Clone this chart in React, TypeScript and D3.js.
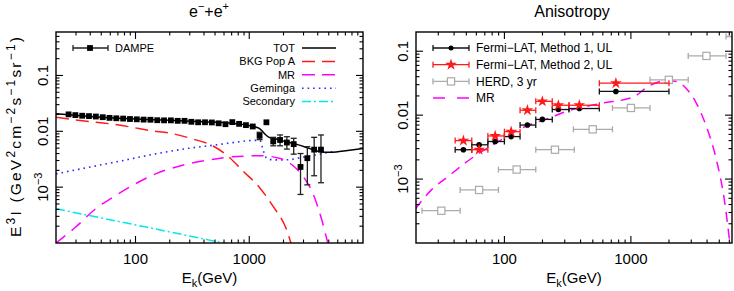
import { useRef, useEffect } from "react";
import * as d3 from "d3";

// ---- left panel: e- + e+ spectrum ----
const dampeE = [25.8, 29.6, 34.0, 39.0, 44.8, 51.5, 59.1, 67.8, 77.9, 89.4, 102.6, 117.8, 135.3, 155.3, 178.3, 204.7, 235.0, 269.8, 309.8, 355.6, 408.3, 468.8, 538.2, 617.9, 709.4, 814.5, 935.1, 1073.6, 1232.6, 1415.2, 1624.8, 1865.4, 2141.7, 2459, 2823, 3241, 3721, 4272];
const dampeFlux = [0.0201, 0.0195, 0.019, 0.0187, 0.0184, 0.0179, 0.0174, 0.0171, 0.0169, 0.0166, 0.0164, 0.0162, 0.0161, 0.0158, 0.0157, 0.0157, 0.0154, 0.0154, 0.0148, 0.0145, 0.0145, 0.0144, 0.0139, 0.0134, 0.0146, 0.0136, 0.0129, 0.0122, 0.0083, 0.0145, 0.0066, 0.007, 0.0063, 0.0059, 0.0023, 0.0033, 0.0047, 0.0047];
const dampeLo = [0.0196, 0.019, 0.0185, 0.0182, 0.0179, 0.0174, 0.0169, 0.0166, 0.0164, 0.0161, 0.0159, 0.0157, 0.0156, 0.0153, 0.0152, 0.0152, 0.0149, 0.0149, 0.0143, 0.014, 0.014, 0.0139, 0.0134, 0.0129, 0.0139, 0.0129, 0.0122, 0.0114, 0.0071, 0.0133, 0.0055, 0.0055, 0.0048, 0.0039, 0.00074, 0.0011, 0.0016, 0.0012];
const dampeHi = [0.0206, 0.02, 0.0195, 0.0192, 0.0189, 0.0184, 0.0179, 0.0176, 0.0174, 0.0171, 0.0169, 0.0167, 0.0166, 0.0163, 0.0162, 0.0162, 0.0159, 0.0159, 0.0153, 0.015, 0.015, 0.0149, 0.0144, 0.0139, 0.0153, 0.0143, 0.0136, 0.013, 0.0096, 0.0158, 0.0078, 0.0086, 0.008, 0.0075, 0.004, 0.0053, 0.0078, 0.0086];

const totE = [20, 30, 50, 100, 200, 400, 668, 1069, 1224, 1310, 1401, 1497, 1714, 2098, 2570, 3143, 3846, 4708, 5387, 7052, 10000];
const totV = [0.0206, 0.0193, 0.0179, 0.0166, 0.0158, 0.0148, 0.0141, 0.0123, 0.0113, 0.0099, 0.0086, 0.0078, 0.0073, 0.0065, 0.0059, 0.0052, 0.0045, 0.0042, 0.0042, 0.0045, 0.0049];
const bkgE = [20, 34, 58.4, 87.3, 133.6, 210, 318, 486, 681, 873, 1224, 1600, 2165, 2400];
const bkgV = [0.0178, 0.0155, 0.0137, 0.0121, 0.0103, 0.0091, 0.0073, 0.0054, 0.0033, 0.00198, 0.001, 0.00047, 0.000158, 0.00008];
const mrE = [20, 29.8, 44.6, 66.8, 100, 150, 224, 336, 503, 705, 1000, 1224, 1834, 2323, 2935, 3590, 4395, 4900];
const mrV = [0.0001, 0.000193, 0.00041, 0.00071, 0.00115, 0.00173, 0.00228, 0.00279, 0.0032, 0.0035, 0.00362, 0.00366, 0.0033, 0.0026, 0.00161, 0.00081, 0.000237, 0.0001];
const gemE = [20, 38.9, 76.4, 150, 294, 503, 754, 1000, 1240, 1330, 1420, 1600, 1834, 2230, 2935, 3846, 5000, 5400];
const gemV = [0.00173, 0.00227, 0.00298, 0.00394, 0.00496, 0.0057, 0.00636, 0.0068, 0.0069, 0.0045, 0.0033, 0.0031, 0.00307, 0.0031, 0.00343, 0.00377, 0.0042, 0.0043];
const secE = [20, 55, 150, 600, 700];
const secV = [0.00041, 0.00027, 0.000178, 0.0001, 0.000094];

// ---- right panel: anisotropy ----
const fermiE = [47.4, 63.1, 84.5, 113, 152, 199.5, 267, 391, 761];
const fermiLo = [40.8, 55.2, 74, 100, 133, 177, 239, 324, 563];
const fermiHi = [55.2, 74, 100, 133, 177, 239, 324, 563, 2000];
const fermi1 = [0.00288, 0.00344, 0.00387, 0.00462, 0.007, 0.00858, 0.01225, 0.0127, 0.0235];
const fermi2 = [0.004, 0.00288, 0.00473, 0.00552, 0.01194, 0.01644, 0.01429, 0.0143, 0.0316];
const herdE = [31.7, 63.1, 125, 251, 499, 1000, 1995, 3955, 7900];
const herdLo = [22.3, 44.7, 89.7, 177, 351, 715, 1416, 2839, 5650];
const herdHi = [44.7, 89.7, 177, 357, 715, 1416, 2839, 5650, 11200];
const herdV = [0.00032, 0.000676, 0.00141, 0.00288, 0.006, 0.01297, 0.0357, 0.0845, 0.17];
const mrAnisoE = [19.7, 26.7, 36.1, 49, 66.4, 89.7, 121, 164, 222, 301, 570, 1042, 1413, 1914, 2296, 2754, 3303, 3955, 4743, 5520, 6040];
const mrAnisoV = [0.00034, 0.00069, 0.00111, 0.00179, 0.00271, 0.00387, 0.00552, 0.00726, 0.00889, 0.01125, 0.0152, 0.0192, 0.0291, 0.0348, 0.0336, 0.0259, 0.0152, 0.0066, 0.002, 0.00043, 0.000105];

const xTickVals = [100, 1000];
const yTickVals = [0.1, 0.01, 0.001];

const FONT = "'Liberation Sans', Arial, Helvetica, sans-serif";

type Part = [string, number];

function rich(sel: any, parts: Part[], size: number, supSize: number) {
  let cur = 0;
  parts.forEach(([t, s]) => {
    const target = s === 1 ? -size * 0.42 : s === -1 ? size * 0.3 : 0;
    sel
      .append("tspan")
      .attr("dy", target - cur)
      .attr("font-size", s === 0 ? size : supSize)
      .text(t);
    cur = target;
  });
}

function App() {
  const svgRef = useRef<SVGSVGElement>(null);

  useEffect(() => {
    drawChart();
  }, []);

  function frame(g: any, x: any, y: any) {
    const [x0, x1] = x.range();
    const [y1, y0] = y.range();
    const [dx0, dx1] = x.domain();
    const [dy0, dy1] = y.domain();

    for (let p = Math.floor(Math.log10(dx0)); p <= Math.ceil(Math.log10(dx1)); p++) {
      for (let m = 1; m < 10; m++) {
        const v = m * Math.pow(10, p);
        if (v < dx0 * 1.001 || v > dx1 * 0.999) continue;
        const len = m === 1 ? 7 : 3.5;
        const px = x(v);
        g.append("line").attr("x1", px).attr("x2", px).attr("y1", y1).attr("y2", y1 - len);
        g.append("line").attr("x1", px).attr("x2", px).attr("y1", y0).attr("y2", y0 + len);
      }
    }
    for (let p = Math.floor(Math.log10(dy0)); p <= Math.ceil(Math.log10(dy1)); p++) {
      for (let m = 1; m < 10; m++) {
        const v = m * Math.pow(10, p);
        if (v < dy0 * 1.001 || v > dy1 * 0.999) continue;
        const len = m === 1 ? 7 : 3.5;
        const py = y(v);
        g.append("line").attr("x1", x0).attr("x2", x0 + len).attr("y1", py).attr("y2", py);
        g.append("line").attr("x1", x1).attr("x2", x1 - len).attr("y1", py).attr("y2", py);
      }
    }
    g.selectAll("line").attr("stroke", "#000").attr("stroke-width", 1.1);
    g.append("rect")
      .attr("x", x0)
      .attr("y", y0)
      .attr("width", x1 - x0)
      .attr("height", y1 - y0)
      .attr("fill", "none")
      .attr("stroke", "#000")
      .attr("stroke-width", 1.4);

    xTickVals.forEach((v) => {
      g.append("text")
        .attr("x", x(v))
        .attr("y", 264)
        .attr("text-anchor", "middle")
        .attr("font-size", 15)
        .text(String(v));
    });
    const labX = x0 - 8;
    yTickVals.forEach((v) => {
      const t = g
        .append("text")
        .attr("transform", `translate(${labX},${y(v)}) rotate(-90)`)
        .attr("text-anchor", "middle");
      if (v === 0.001) rich(t, [["10", 0], ["\u22123", 1]], 15, 11);
      else t.attr("font-size", 15).text(String(v));
    });

    const xt = g
      .append("text")
      .attr("x", (x0 + x1) / 2)
      .attr("y", 282.5)
      .attr("text-anchor", "middle");
    rich(xt, [["E", 0], ["k", -1], ["(GeV)", 0]], 15, 11);
  }

  function drawChart() {
    if (!svgRef.current) return;
    const svg = d3.select(svgRef.current);
    svg.selectAll("*").remove();
    svg.attr("font-family", FONT);

    const defs = svg.append("defs");

    // ================= LEFT =================
    const xL = d3.scaleLog().domain([20, 10000]).range([56, 363]);
    const yL = d3.scaleLog().domain([1e-4, 0.6]).range([243, 32]);
    defs
      .append("clipPath")
      .attr("id", "clipL")
      .append("rect")
      .attr("x", 56)
      .attr("y", 32)
      .attr("width", 307)
      .attr("height", 211);

    const gL = svg.append("g");
    const lineL = d3
      .line<[number, number]>()
      .x((d) => xL(d[0]))
      .y((d) => yL(d[1]))
      .curve(d3.curveMonotoneX);

    const curvesL = gL.append("g").attr("clip-path", "url(#clipL)");
    const series: [number[], number[], string, string, number][] = [
      [secE, secV, "#00e8e8", "9,3,2,3", 1.5],
      [gemE, gemV, "#2b2bff", "1.6,4", 1.6],
      [mrE, mrV, "#ff00ff", "12,8", 1.5],
      [bkgE, bkgV, "#ff1a1a", "13,7", 1.5],
      [totE, totV, "#000", "", 1.5],
    ];
    series.forEach(([es, vs, c, dash, w]) => {
      curvesL
        .append("path")
        .datum(es.map((e, i) => [e, vs[i]] as [number, number]))
        .attr("d", lineL)
        .attr("fill", "none")
        .attr("stroke", c)
        .attr("stroke-width", w)
        .attr("stroke-dasharray", dash || null);
    });

    // DAMPE points
    const pts = curvesL.append("g");
    dampeE.forEach((e, i) => {
      const px = xL(e);
      const yh = yL(dampeHi[i]);
      const yl = yL(dampeLo[i]);
      if (yl - yh > 6) {
        pts.append("line").attr("x1", px).attr("x2", px).attr("y1", yh).attr("y2", yl);
        pts.append("line").attr("x1", px - 3).attr("x2", px + 3).attr("y1", yh).attr("y2", yh);
        pts.append("line").attr("x1", px - 3).attr("x2", px + 3).attr("y1", yl).attr("y2", yl);
      }
      pts
        .append("rect")
        .attr("x", px - 2.9)
        .attr("y", yL(dampeFlux[i]) - 2.9)
        .attr("width", 5.8)
        .attr("height", 5.8)
        .attr("fill", "#000");
    });
    pts.selectAll("line").attr("stroke", "#222").attr("stroke-width", 1.3);

    frame(gL.append("g"), xL, yL);

    // title + y label
    const tL = svg.append("text").attr("x", 209).attr("y", 16.5).attr("text-anchor", "middle");
    rich(tL, [["e", 0], ["\u2212", 1], ["+e", 0], ["+", 1]], 16, 11);

    const yt = svg
      .append("text")
      .attr("transform", `translate(21,137) rotate(-90)`)
      .attr("text-anchor", "middle")
      .attr("textLength", 200)
      .attr("lengthAdjust", "spacing");
    rich(
      yt,
      [
        ["E", 0], ["3", 1], ["I  (GeV", 0], ["2", 1], ["cm", 0], ["\u22122", 1],
        ["s", 0], ["\u22121", 1], ["sr", 0], ["\u22121", 1], [")", 0],
      ],
      15.5,
      12
    );

    // left legend
    const lg = svg.append("g").attr("font-size", 11);
    lg.append("line").attr("x1", 73).attr("x2", 108).attr("y1", 48).attr("y2", 48);
    lg.append("line").attr("x1", 73).attr("x2", 73).attr("y1", 45).attr("y2", 51);
    lg.append("line").attr("x1", 108).attr("x2", 108).attr("y1", 45).attr("y2", 51);
    lg.selectAll("line").attr("stroke", "#222").attr("stroke-width", 1.3);
    lg.append("rect").attr("x", 87.1).attr("y", 45.1).attr("width", 5.8).attr("height", 5.8).attr("fill", "#000");
    lg.append("text").attr("x", 115).attr("y", 48).attr("dy", "0.35em").text("DAMPE");

    const legL: [string, string, string][] = [
      ["TOT", "#000", ""],
      ["BKG Pop A", "#ff1a1a", "13,7"],
      ["MR", "#ff00ff", "13,7"],
      ["Geminga", "#2b2bff", "1.6,4"],
      ["Secondary", "#00e8e8", "9,3,2,3"],
    ];
    legL.forEach(([name, c, dash], i) => {
      const yy = 48 + i * 13.4;
      lg.append("text").attr("x", 295).attr("y", yy).attr("dy", "0.35em").attr("text-anchor", "end").text(name);
      lg.append("line")
        .attr("x1", 302)
        .attr("x2", 336)
        .attr("y1", yy)
        .attr("y2", yy)
        .attr("stroke", c)
        .attr("stroke-width", 1.5)
        .attr("stroke-dasharray", dash || null);
    });

    // ================= RIGHT =================
    const xR = d3.scaleLog().domain([20, 6300]).range([416, 732]);
    const yR = d3.scaleLog().domain([1e-4, 0.2]).range([243, 32]);
    defs
      .append("clipPath")
      .attr("id", "clipR")
      .append("rect")
      .attr("x", 416)
      .attr("y", 32)
      .attr("width", 316)
      .attr("height", 211);

    const gR = svg.append("g");
    const dataR = gR.append("g").attr("clip-path", "url(#clipR)");

    const lineR = d3
      .line<[number, number]>()
      .x((d) => xR(d[0]))
      .y((d) => yR(d[1]))
      .curve(d3.curveMonotoneX);

    dataR
      .append("path")
      .datum(mrAnisoE.map((e, i) => [e, mrAnisoV[i]] as [number, number]))
      .attr("d", lineR)
      .attr("fill", "none")
      .attr("stroke", "#ff00ff")
      .attr("stroke-width", 1.5)
      .attr("stroke-dasharray", "10,7");

    function hbar(g: any, lo: number, hi: number, yy: number, c: string) {
      g.append("line").attr("x1", xR(lo)).attr("x2", xR(hi)).attr("y1", yy).attr("y2", yy).attr("stroke", c).attr("stroke-width", 1.3);
      [lo, hi].forEach((v) =>
        g.append("line").attr("x1", xR(v)).attr("x2", xR(v)).attr("y1", yy - 3).attr("y2", yy + 3).attr("stroke", c).attr("stroke-width", 1.3)
      );
    }

    // HERD
    herdE.forEach((e, i) => {
      const yy = yR(herdV[i]);
      hbar(dataR, herdLo[i], herdHi[i], yy, "#aaaaaa");
      dataR
        .append("rect")
        .attr("x", xR(e) - 3.6)
        .attr("y", yy - 3.6)
        .attr("width", 7.2)
        .attr("height", 7.2)
        .attr("fill", "#fff")
        .attr("stroke", "#aaaaaa")
        .attr("stroke-width", 1.2);
    });

    const star = d3.symbol().type(d3.symbolStar).size(42);

    // Fermi method 1
    fermiE.forEach((e, i) => {
      const yy = yR(fermi1[i]);
      hbar(dataR, fermiLo[i], fermiHi[i], yy, "#111");
      dataR.append("circle").attr("cx", xR(e)).attr("cy", yy).attr("r", 2.8).attr("fill", "#000");
    });
    // Fermi method 2
    fermiE.forEach((e, i) => {
      const yy = yR(fermi2[i]);
      hbar(dataR, fermiLo[i], fermiHi[i], yy, "#ff1a1a");
      dataR
        .append("path")
        .attr("d", star() as string)
        .attr("transform", `translate(${xR(e)},${yy})`)
        .attr("fill", "#ff1a1a");
    });

    frame(gR.append("g"), xR, yR);

    svg.append("text").attr("x", 572).attr("y", 16.5).attr("text-anchor", "middle").attr("font-size", 16).text("Anisotropy");

    // right legend
    const lgR = svg.append("g").attr("font-size", 12);
    const rowsR: [string, string][] = [
      ["Fermi\u2212LAT, Method 1, UL", "#111"],
      ["Fermi\u2212LAT, Method 2, UL", "#ff1a1a"],
      ["HERD, 3 yr", "#aaaaaa"],
    ];
    rowsR.forEach(([name, c], i) => {
      const yy = 48 + i * 16.7;
      lgR.append("line").attr("x1", 433).attr("x2", 469).attr("y1", yy).attr("y2", yy).attr("stroke", c).attr("stroke-width", 1.3);
      [433, 469].forEach((xx) =>
        lgR.append("line").attr("x1", xx).attr("x2", xx).attr("y1", yy - 3).attr("y2", yy + 3).attr("stroke", c).attr("stroke-width", 1.3)
      );
      if (i === 0) lgR.append("circle").attr("cx", 451).attr("cy", yy).attr("r", 2.5).attr("fill", "#000");
      if (i === 1)
        lgR.append("path").attr("d", star() as string).attr("transform", `translate(451,${yy})`).attr("fill", "#ff1a1a");
      if (i === 2)
        lgR.append("rect").attr("x", 447.4).attr("y", yy - 3.6).attr("width", 7.2).attr("height", 7.2).attr("fill", "#fff").attr("stroke", c).attr("stroke-width", 1.2);
      lgR.append("text").attr("x", 476).attr("y", yy).attr("dy", "0.35em").text(name);
    });
    const yMR = 48 + 3 * 16.7;
    lgR.append("line").attr("x1", 433).attr("x2", 470).attr("y1", yMR).attr("y2", yMR).attr("stroke", "#ff00ff").attr("stroke-width", 1.5).attr("stroke-dasharray", "12,12");
    lgR.append("text").attr("x", 476).attr("y", yMR).attr("dy", "0.35em").text("MR");
  }

  return (
    <svg
      ref={svgRef}
      width={734}
      height={291}
      style={{ position: "absolute", left: 0, top: 0, background: "#fff" }}
    />
  );
}

export default App;
